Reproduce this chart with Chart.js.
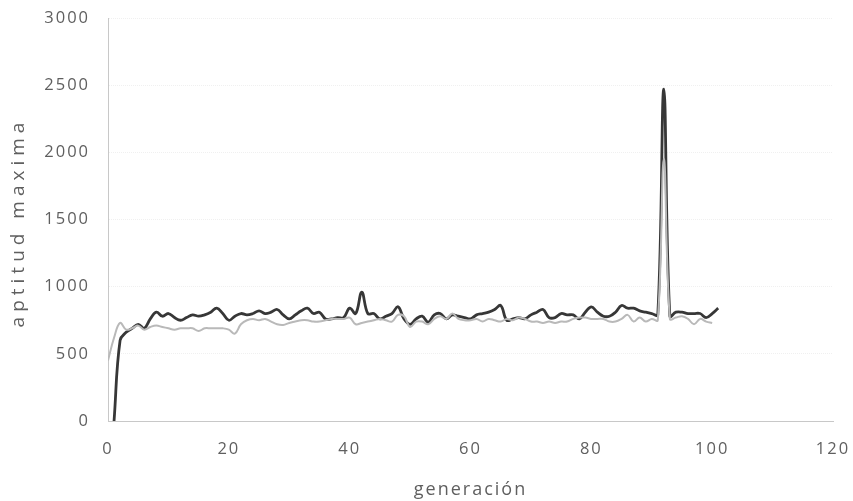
<!DOCTYPE html>
<html>
<head>
<meta charset="utf-8">
<script src="https://cdn.jsdelivr.net/npm/chart.js@4"></script>
<style>
  html, body { margin: 0; padding: 0; background: #fff; }
  #wrap { width: 853px; height: 501px; }
</style>
</head>
<body>
<div id="wrap"><canvas id="myChart"></canvas></div>
<script>
// dark line starts at generation 1, light line at generation 0
var darkStart = 1;
var darkValues = [
    0, 600, 660, 690, 720, 690, 760, 810, 780, 800,
    770, 750, 770, 790, 780, 790, 810, 840, 800, 750,
    780, 800, 790, 800, 820, 800, 810, 830, 790, 760,
    790, 820, 840, 800, 810, 760, 760, 770, 770, 840,
    800, 960, 800, 800, 760, 780, 800, 850, 760, 720,
    760, 780, 735, 790, 800, 760, 790, 780, 770, 760,
    790, 800, 810, 830, 860, 750, 760, 770, 760, 790,
    810, 830, 770, 770, 800, 790, 790, 760, 810, 850,
    810, 780, 780, 810, 860, 840, 840, 820, 810, 800,
    790, 2470, 780, 810, 810, 800, 800, 800, 770, 800,
    840
];
var lightStart = 0;
var lightValues = [
    450, 620, 730, 680, 690, 710, 680, 700, 710, 700,
    690, 680, 690, 690, 690, 670, 690, 690, 690, 690,
    680, 650, 720, 750, 760, 750, 760, 740, 720, 715,
    730, 740, 750, 750, 740, 740, 750, 760, 760, 760,
    770, 720, 730, 740, 750, 760, 750, 740, 790, 780,
    700, 740, 740, 720, 760, 780, 760, 800, 760, 750,
    750, 760, 740, 760, 750, 740, 760, 750, 770, 760,
    740, 740, 730, 740, 730, 740, 740, 760, 770, 770,
    760, 760, 760, 740, 740, 760, 790, 740, 770, 740,
    760, 750, 1950, 760, 770, 780, 760, 720, 760, 740,
    730
];
var xTicks = [0, 20, 40, 60, 80, 100, 120];
var yTicks = [0, 500, 1000, 1500, 2000, 2500, 3000];
var yTitle = 'aptitud maxima';

function toPoints(start, values) {
    return values.map(function (v, i) { return { x: start + i, y: v }; });
}

// the scanned chart has widely spaced lettering
var spacing = {
    id: 'spacing',
    beforeUpdate: function (chart) { chart.ctx.letterSpacing = '2px'; },
    beforeDraw: function (chart) { chart.ctx.letterSpacing = '2px'; },
    afterDraw: function (chart) {
        var c = chart.ctx;
        var area = chart.chartArea;
        c.save();
        c.letterSpacing = '5px';
        c.font = '19px "Open Sans"';
        c.fillStyle = '#5f5f5f';
        c.textAlign = 'center';
        c.textBaseline = 'middle';
        c.translate(19, (area.top + area.bottom) / 2 + 3);
        c.rotate(-Math.PI / 2);
        c.fillText(yTitle, 0, 0);
        c.restore();
    }
};

var ctx = document.getElementById('myChart').getContext('2d');
var myChart = new Chart(ctx, {
    type: 'line',
    data: {
        datasets: [{
            label: 'light',
            data: toPoints(lightStart, lightValues),
            borderColor: 'rgb(185, 185, 185)',
            borderWidth: 2,
            pointRadius: 0,
            tension: 0.4,
            fill: false
        },
        {
            label: 'dark',
            data: toPoints(darkStart, darkValues),
            borderColor: 'rgb(55, 55, 55)',
            borderWidth: 2.8,
            pointRadius: 0,
            tension: 0.4,
            fill: false
        }]
    },
    plugins: [spacing],
    options: {
        responsive: true,
        maintainAspectRatio: false,
        animation: false,
        layout: { padding: { top: 0, right: 0, left: 0, bottom: 0 } },
        plugins: {
            legend: { display: false },
            tooltip: { enabled: false }
        },
        scales: {
            x: {
                type: 'linear',
                min: 0,
                max: 120,
                afterBuildTicks: function (axis) {
                    axis.ticks = xTicks.map(function (v) { return { value: v }; });
                },
                afterFit: function (axis) {
                    axis.height = 80;
                    axis.paddingRight = 20;
                },
                grid: { display: false },
                border: { display: true, color: 'rgb(200, 200, 200)', dash: [1, 1] },
                ticks: {
                    color: '#5f5f5f',
                    padding: 10,
                    font: { family: 'Open Sans', size: 16.5 },
                    callback: function (v) { return String(v); }
                },
                title: {
                    display: true,
                    text: 'generación',
                    color: '#5f5f5f',
                    padding: { top: 10, bottom: 0 },
                    font: { family: 'Open Sans', size: 18 }
                }
            },
            y: {
                min: 0,
                max: 3000,
                afterBuildTicks: function (axis) {
                    axis.ticks = yTicks.map(function (v) { return { value: v }; });
                },
                afterFit: function (axis) {
                    axis.width = 108;
                    axis.paddingTop = 18;
                },
                grid: {
                    color: 'rgba(0, 0, 0, 0.06)',
                    drawTicks: false
                },
                border: { display: true, color: 'rgb(200, 200, 200)', dash: [1, 1] },
                ticks: {
                    color: '#5f5f5f',
                    padding: 18,
                    font: { family: 'Open Sans', size: 16.5 },
                    callback: function (v) { return String(v); }
                },
                title: { display: false }
            }
        }
    }
});
</script>
</body>
</html>
